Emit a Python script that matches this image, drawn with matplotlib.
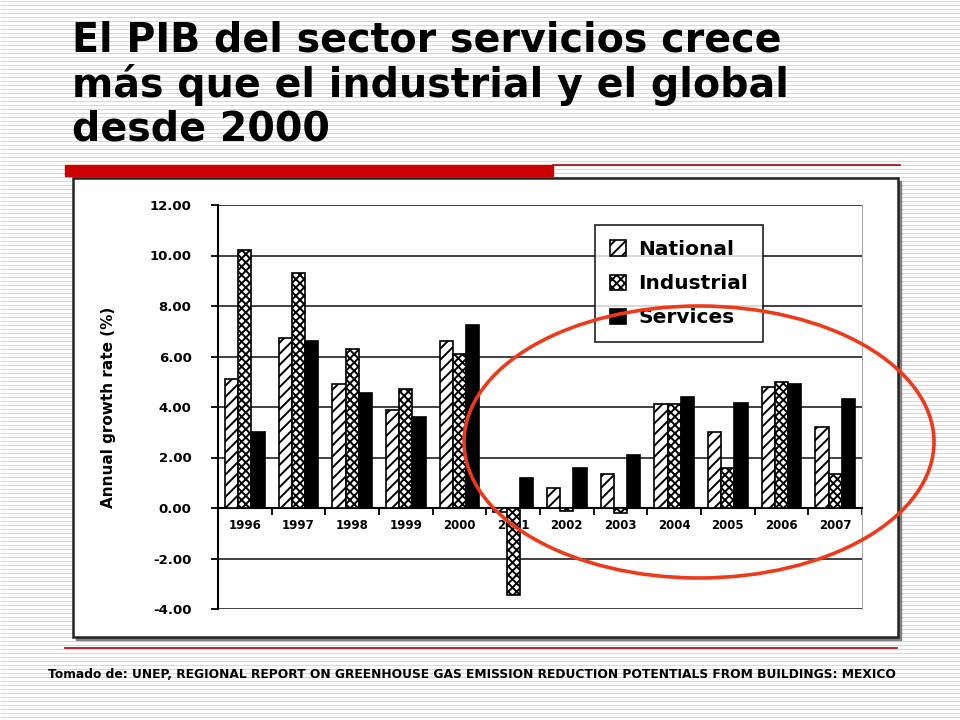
import numpy as np
import matplotlib
matplotlib.use('Agg')
import matplotlib.pyplot as plt
from matplotlib.patches import Rectangle, Ellipse

years = ['1996', '1997', '1998', '1999', '2000', '2001', '2002', '2003', '2004', '2005', '2006', '2007']
national = [5.1, 6.75, 4.9, 3.9, 6.6, -0.15, 0.8, 1.35, 4.1, 3.0, 4.8, 3.2]
industrial = [10.2, 9.3, 6.3, 4.7, 6.1, -3.45, -0.1, -0.2, 4.1, 1.6, 5.0, 1.35]
services = [3.0, 6.6, 4.55, 3.6, 7.25, 1.2, 1.6, 2.1, 4.4, 4.15, 4.9, 4.3]
yticks = [-4, -2, 0, 2, 4, 6, 8, 10, 12]

plt.rcParams['hatch.linewidth'] = 1.4
fig = plt.figure(figsize=(9.6, 7.2), dpi=100)

# striped slide background
bg = fig.add_axes([0, 0, 1, 1])
bg.set_xlim(0, 960)
bg.set_ylim(720, 0)
bg.axis('off')
bg.hlines(np.arange(1, 720, 4), 0, 960, color='#d8d8d8', lw=0.8)

# title
fig.text(72/960, 1 - 20/720, 'El PIB del sector servicios crece\nmás que el industrial y el global\ndesde 2000',
         fontsize=28.5, fontweight='bold', va='top', ha='left', linespacing=1.12, color='black')

# red bars
bg.add_patch(Rectangle((65, 165), 488, 11, color='#cc0000', zorder=3))
bg.plot([553, 900], [165, 165], color='#b00000', lw=1.2, zorder=3)
bg.plot([65, 897], [648, 648], color='#b00000', lw=1.2, zorder=3)

# chart frame with shadow
bg.add_patch(Rectangle((76, 181), 825, 459, color='#808080', zorder=3))
bg.add_patch(Rectangle((73, 178), 825, 459, facecolor='white', edgecolor='#222222', lw=1.8, zorder=4))

fig.text(48/960, 1 - 675/720,
         'Tomado de: UNEP, REGIONAL REPORT ON GREENHOUSE GAS EMISSION REDUCTION POTENTIALS FROM BUILDINGS: MEXICO',
         fontsize=8.85, fontweight='bold', va='center', ha='left', color='black')

ax = fig.add_axes([218/960, 1 - 609/720, 644/960, 404/720], zorder=5)
ax.patch.set_alpha(0)
x = np.arange(len(years))
w = 0.245
ax.bar(x - w, national, w, facecolor='white', edgecolor='black', hatch='///', lw=1.2, label='National', zorder=3)
ax.bar(x, industrial, w, facecolor='white', edgecolor='black', hatch='xxxx', lw=1.2, label='Industrial', zorder=3)
ax.bar(x + w, services, w, facecolor='black', edgecolor='black', lw=1.2, label='Services', zorder=3)

ax.set_xlim(-0.5, len(years) - 0.5)
ax.set_ylim(-4, 12)
ax.set_yticks(yticks)
ax.set_yticklabels(['%.2f' % v for v in yticks], fontsize=9.5, fontweight='bold')
ax.yaxis.grid(True, color='#333333', lw=1.3, zorder=0)
ax.set_axisbelow(True)

ax.spines['top'].set_visible(False)
ax.spines['right'].set_color('#aaaaaa')
ax.spines['left'].set_linewidth(1.5)
ax.spines['bottom'].set_position(('data', 0))
ax.spines['bottom'].set_linewidth(1.5)
ax.set_xticks(x)
ax.set_xticklabels(years, fontsize=8.5, fontweight='bold')
ax.tick_params(axis='x', which='major', length=0, pad=8)
ax.set_xticks(np.arange(-0.5, len(years)), minor=True)
ax.tick_params(axis='x', which='minor', length=5, width=1.3, direction='out')
ax.tick_params(axis='y', length=5, width=1.3, pad=14)
ax.set_ylabel('Annual growth rate (%)', fontsize=11, fontweight='bold', labelpad=24)

leg = ax.legend(loc='upper left', bbox_to_anchor=((595 - 218) / 644, (609 - 225) / 404), borderaxespad=0,
                prop={'weight': 'bold', 'size': 14.5}, frameon=True, fancybox=False,
                handlelength=0.8, handleheight=0.8, borderpad=0.75, labelspacing=0.75, handletextpad=0.6)
leg.get_frame().set_edgecolor('black')
leg.get_frame().set_linewidth(1.3)
leg.set_zorder(6)

# red ellipse highlight
fig.add_artist(Ellipse((699/960, 1 - 442/720), 470/960, 272/720, transform=fig.transFigure,
                       fill=False, edgecolor='#ee3a1a', lw=2.6, zorder=10))

fig.savefig('out.png', dpi=100)
